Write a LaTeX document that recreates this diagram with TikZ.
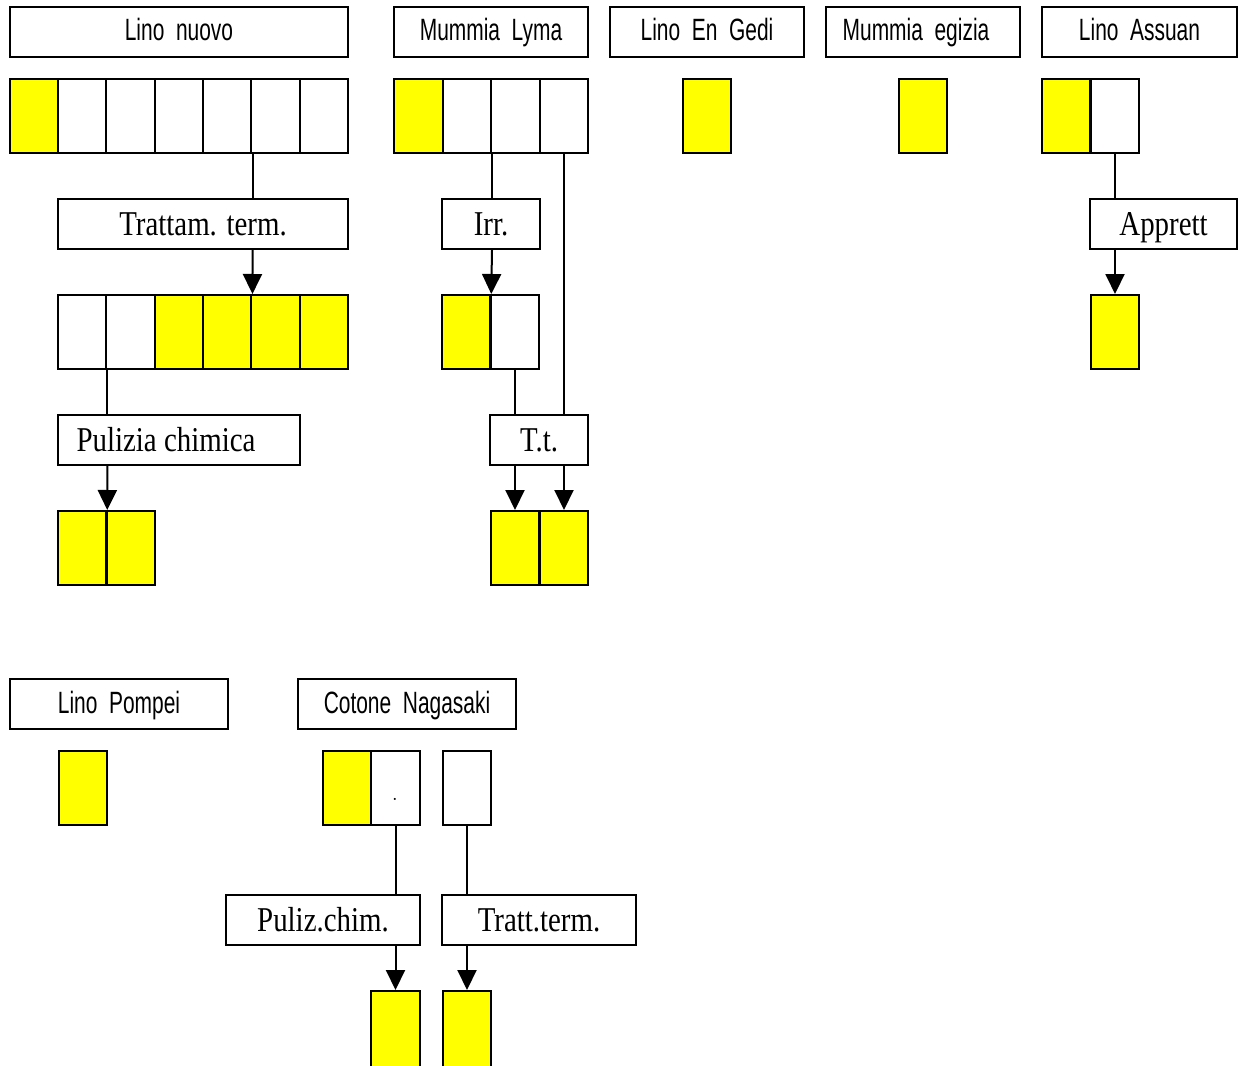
\documentclass[tikz,border=0pt]{standalone}
\usepackage{fontspec}
\usepackage{graphicx}
\usetikzlibrary{arrows.meta}
\definecolor{yel}{RGB}{255,255,0}
\newfontfamily\hdfont{Liberation Sans}
\newfontfamily\lbfont{Liberation Serif}
\newcommand\hdtxt[1]{\scalebox{0.68}[1]{\hdfont\fontsize{15.4}{16}\selectfont #1}}
\newcommand\lbtxt[1]{\scalebox{0.83}[1]{\lbfont\fontsize{17.4}{18}\selectfont #1}}
\tikzset{
  head/.style={draw, line width=1pt, minimum height=25pt, inner sep=0pt, text height=9pt, text depth=0pt},
  proc/.style={draw, line width=1pt, minimum height=25pt, inner sep=0pt, text height=11.5pt, text depth=0pt},
  cell/.style={draw, line width=1pt, minimum width=24.25pt, minimum height=37pt, inner sep=0pt, fill=white},
  ycell/.style={cell, fill=yel},
  conn/.style={line width=1pt},
  arr/.style={line width=1pt, -{Triangle[width=9.5pt,length=10pt]}}
}
\begin{document}
\begin{tikzpicture}[x=0.5pt, y=-0.5pt]
\useasboundingbox[fill=white] (0,0) rectangle (1241,1065);

% headers
\node[head, minimum width=169pt] (hLN) at (179,32) {\hdtxt{Lino~ nuovo}};
\node[head, minimum width=97pt] (hML) at (491,32) {\hdtxt{Mummia~ Lyma}};
\node[head, minimum width=97pt] (hEG) at (707,32) {\hdtxt{Lino~ En~ Gedi}};
\node[head, minimum width=97pt] (hME) at (923,32) {\hdtxt{Mummia~ egizia}\hspace*{7pt}};
\node[head, minimum width=97.5pt] (hLA) at (1139.5,32) {\hdtxt{Lino~ Assuan}};
\node[head, minimum width=109pt] (hLP) at (119,704) {\hdtxt{Lino~ Pompei}};
\node[head, minimum width=109pt] (hCN) at (407,704) {\hdtxt{Cotone~ Nagasaki}};

% Lino nuovo
\node[ycell] (ln1) at (34.1,116) {};
\node[cell] (ln2) at (82.4,116) {};
\node[cell] (ln3) at (130.7,116) {};
\node[cell] (ln4) at (179,116) {};
\node[cell] (ln5) at (227.3,116) {};
\node[cell] (ln6) at (275.6,116) {};
\node[cell] (ln7) at (323.9,116) {};
\node[proc, minimum width=145pt] (tt) at (203,224) {\lbtxt{Trattam. term.}};
\node[cell] (lnb1) at (82.2,332) {};
\node[cell] (lnb2) at (130.5,332) {};
\node[ycell] (lnb3) at (178.8,332) {};
\node[ycell] (lnb4) at (227.2,332) {};
\node[ycell] (lnb5) at (275.5,332) {};
\node[ycell] (lnb6) at (323.8,332) {};
\node[proc, minimum width=121pt] (pc) at (179,440) {\lbtxt{Pulizia chimica}\hspace*{13pt}};
\node[ycell] (lnc1) at (82,548) {};
\node[ycell] (lnc2) at (131,548) {};

\draw[conn] (ln5.south east) -- (ln5.south east |- tt.north);
\draw[arr] (tt.south -| ln5.south east) -- (lnb4.north east);
\draw[conn] (lnb1.south east) -- (lnb1.south east |- pc.north);
\draw[arr] (pc.south -| lnb1.south east) -- (lnc1.north east);

% Mummia Lyma
\node[ycell] (ml1) at (418.25,116) {};
\node[cell] (ml2) at (466.75,116) {};
\node[cell] (ml3) at (515.25,116) {};
\node[cell] (ml4) at (563.75,116) {};
\node[proc, minimum width=49pt] (irr) at (491,224) {\lbtxt{Irr.}};
\node[ycell] (mlb1) at (466,332) {};
\node[cell] (mlb2) at (515,332) {};
\node[proc, minimum width=49pt] (tt2) at (539,440) {\lbtxt{T.t.}};
\node[ycell] (mlc1) at (515,548) {};
\node[ycell] (mlc2) at (564,548) {};

\draw[conn] (ml2.south east) -- (ml2.south east |- irr.north);
\draw[arr] (irr.south -| ml2.south east) -- (mlb1.north east);
\draw[conn] (mlb2.south) -- (mlb2.south |- tt2.north);
\draw[conn] (ml4.south) -- (ml4.south |- tt2.north);
\draw[arr] (tt2.south -| mlc1) -- (mlc1.north);
\draw[arr] (tt2.south -| mlc2) -- (mlc2.north);

% Lino En Gedi, Mummia egizia
\node[ycell] (eg1) at (707,116) {};
\node[ycell] (me1) at (923,116) {};

% Lino Assuan
\node[ycell] (la1) at (1066,116) {};
\node[cell] (la2) at (1115,116) {};
\node[proc, minimum width=73.5pt] (app) at (1163.5,224) {\lbtxt{Apprett}};
\node[ycell] (la3) at (1115,332) {};
\draw[conn] (la2.south) -- (la2.south |- app.north);
\draw[arr] (app.south -| la3) -- (la3.north);

% Lino Pompei
\node[ycell] (lp1) at (83,788) {};

% Cotone Nagasaki
\node[ycell] (cn1) at (347,788) {};
\node[cell] (cn2) at (395.5,788) {};
\node[cell] (cn3) at (467,788) {};
\node[anchor=base, inner sep=0pt, font=\normalsize] (dot) at (395,800) {.};
\node[proc, minimum width=97pt] (pch) at (323,920) {\lbtxt{Puliz.chim.}};
\node[proc, minimum width=97pt] (ttm) at (539,920) {\lbtxt{Tratt.term.}};
\node[ycell, minimum height=40pt] (cnb1) at (395.5,1031) {};
\node[ycell, minimum height=40pt] (cnb2) at (467,1031) {};

\draw[conn] (cn2.south) -- (cn2.south |- pch.north);
\draw[arr] (pch.south -| cnb1) -- (cnb1.north);
\draw[conn] (cn3.south) -- (cn3.south |- ttm.north);
\draw[arr] (ttm.south -| cnb2) -- (cnb2.north);
\end{tikzpicture}
\end{document}
